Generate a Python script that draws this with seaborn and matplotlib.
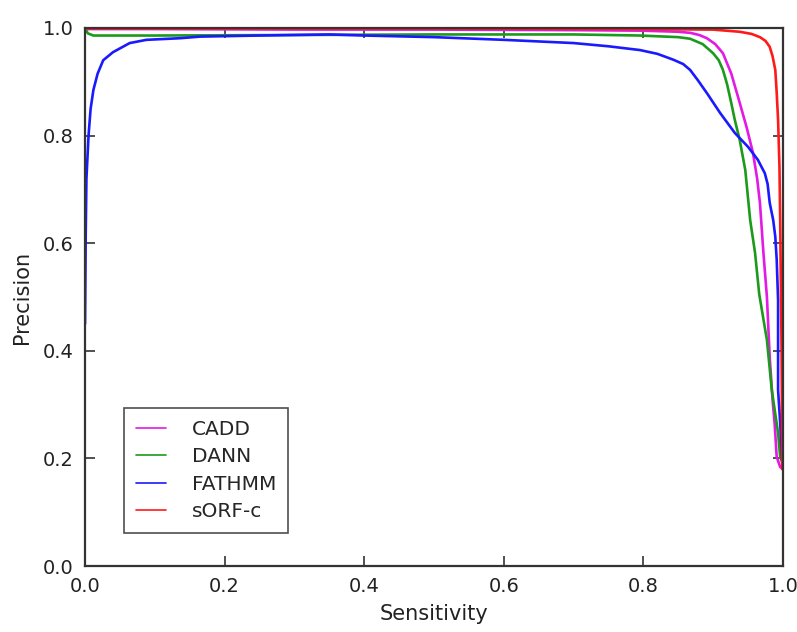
import numpy as np
import pandas as pd
import seaborn as sns
from matplotlib import pyplot as plt

# precision / sensitivity points
cadd_x = [0.0, 0.1, 0.3, 0.5, 0.7, 0.8, 0.85, 0.867, 0.88, 0.891, 0.903, 0.914, 0.926, 0.938,
          0.948, 0.957, 0.963, 0.967, 0.972, 0.977, 0.981, 0.985, 0.988, 0.991, 0.996, 1.0]
cadd_y = [0.998, 0.998, 0.997, 0.997, 0.996, 0.995, 0.993, 0.991, 0.987, 0.981, 0.970, 0.953,
          0.915, 0.861, 0.815, 0.768, 0.72, 0.675, 0.582, 0.50, 0.388, 0.31, 0.266, 0.203,
          0.184, 0.18]

dann_x = [0.0, 0.004, 0.012, 0.1, 0.3, 0.5, 0.7, 0.795, 0.85, 0.867, 0.885, 0.9, 0.908, 0.914,
          0.920, 0.926, 0.931, 0.938, 0.946, 0.953, 0.960, 0.966, 0.977, 0.984, 0.993, 0.996, 1.0]
dann_y = [1.0, 0.99, 0.986, 0.986, 0.987, 0.988, 0.988, 0.986, 0.983, 0.980, 0.970, 0.953,
          0.94, 0.922, 0.895, 0.86, 0.829, 0.792, 0.736, 0.643, 0.582, 0.505, 0.420, 0.327,
          0.247, 0.203, 0.19]

fathmm_x = [0.0, 0.001, 0.002, 0.005, 0.008, 0.012, 0.018, 0.026, 0.04, 0.064, 0.088, 0.136,
            0.165, 0.25, 0.35, 0.4, 0.5, 0.6, 0.7, 0.75, 0.795, 0.82, 0.843, 0.857, 0.867,
            0.878, 0.891, 0.910, 0.931, 0.950, 0.964, 0.974, 0.978, 0.981, 0.986, 0.989,
            0.991, 0.993, 0.993, 0.996, 0.999]
fathmm_y = [0.45, 0.62, 0.72, 0.80, 0.85, 0.885, 0.915, 0.94, 0.955, 0.972, 0.978, 0.981,
            0.984, 0.986, 0.988, 0.986, 0.983, 0.978, 0.972, 0.966, 0.959, 0.952, 0.941,
            0.933, 0.922, 0.903, 0.879, 0.842, 0.805, 0.779, 0.755, 0.730, 0.71, 0.675,
            0.643, 0.612, 0.57, 0.494, 0.327, 0.266, 0.19]

sorf_x = [0.0, 0.2, 0.5, 0.8, 0.9, 0.938, 0.955, 0.967, 0.975, 0.981, 0.985, 0.989, 0.991,
          0.993, 0.995, 0.996, 0.998, 0.999]
sorf_y = [0.999, 0.999, 0.999, 0.998, 0.997, 0.993, 0.989, 0.983, 0.976, 0.965, 0.948, 0.922,
          0.88, 0.829, 0.74, 0.643, 0.40, 0.18]

names = ["CADD", "DANN", "FATHMM", "sORF-c"]
colors = ["#e31ae3", "#1c9a1c", "#1a1aff", "#ff1a1a"]

frames = []
for name, xs, ys in zip(names, [cadd_x, dann_x, fathmm_x, sorf_x],
                        [cadd_y, dann_y, fathmm_y, sorf_y]):
    frames.append(pd.DataFrame({"Sensitivity": xs, "Precision": ys, "model": name}))
df = pd.concat(frames, ignore_index=True)

sns.set_style("white")
plt.rcParams['font.family'] = ['DejaVu Sans']

fig = plt.figure(figsize=(7.97, 6.32), dpi=100)
ax = fig.add_axes([0.1067, 0.1044, 0.8757, 0.8513])

sns.lineplot(data=df, x="Sensitivity", y="Precision", hue="model", hue_order=names,
             palette=dict(zip(names, colors)), sort=False, estimator=None,
             linewidth=1.9, ax=ax)

ax.set_xlim(0, 1)
ax.set_ylim(0, 1)
ax.set_xticks(np.arange(0, 1.01, 0.2))
ax.set_yticks(np.arange(0, 1.01, 0.2))
ax.tick_params(direction="in", length=7, width=1.2, colors="#333333",
               labelcolor="#222222", labelsize=14, pad=8,
               top=True, right=True, bottom=True, left=True)
for s in ax.spines.values():
    s.set_visible(True)
    s.set_color("#333333")
    s.set_linewidth(1.6)
ax.set_xlabel("Sensitivity", fontsize=15, color="#222222", labelpad=6)
ax.set_ylabel("Precision", fontsize=15, color="#222222", labelpad=8)

leg = ax.legend(loc="lower left", bbox_to_anchor=(0.056, 0.061), borderaxespad=0,
                fontsize=14.5, frameon=True, fancybox=False, handlelength=1.5,
                borderpad=0.6, labelspacing=0.42, handletextpad=1.25)
leg.get_frame().set_edgecolor("#222222")
leg.get_frame().set_linewidth(1.2)
for line in leg.get_lines():
    line.set_linewidth(1.2)

fig.savefig("out.png", dpi=100)
